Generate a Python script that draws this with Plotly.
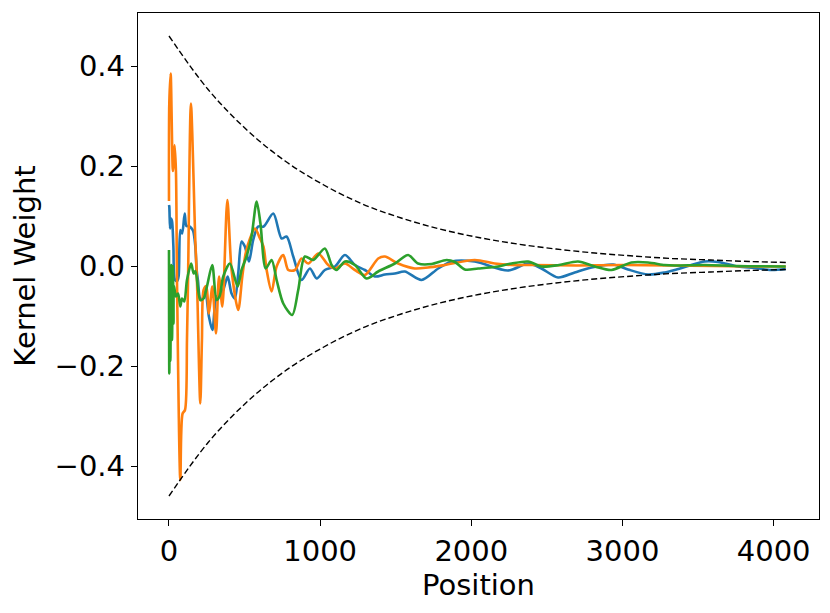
import plotly.graph_objects as go

# envelope (upper; lower is the mirror)
env_pos = [0, 256, 512, 768, 1024, 1280, 1536, 1792, 2048, 2304, 2560, 2816, 3072, 3328, 3584, 3840, 4095]
env_val = [0.460, 0.354, 0.273, 0.210, 0.162, 0.124, 0.096, 0.074, 0.057, 0.044, 0.034, 0.026, 0.020, 0.015, 0.012, 0.009, 0.007]

blue_pos = [0, 2, 7, 13, 20, 29, 40, 55, 64, 75, 87, 104, 115, 130, 147, 160, 174, 183, 192, 205, 218, 240, 264,
            287, 315, 335, 359, 388, 414, 436, 458, 480, 502, 529, 557, 590, 626, 690, 745, 778, 822, 877, 932, 977,
            1031, 1098, 1164, 1230, 1296, 1362, 1428, 1494, 1560, 1671, 1781, 1869, 2023, 2243, 2376, 2464, 2574,
            2684, 2795, 2938, 3037, 3169, 3279, 3345, 3434, 3544, 3632, 3764, 3874, 3985, 4080]
blue_val = [0.122, 0.119, 0.075, 0.095, 0.09, 0.04, -0.028, -0.03, -0.02, 0.072, 0.065, 0.105, 0.08, 0.08, 0.076,
            0.07, 0.04, -0.008, -0.03, -0.065, -0.068, -0.05, -0.101, -0.128, -0.061, -0.06, -0.048, -0.021, -0.055,
            -0.065, -0.015, 0.049, 0.039, 0.009, 0.052, 0.079, 0.079, 0.105, 0.055, 0.059, 0.019, -0.028, -0.005,
            -0.025, -0.008, -0.001, 0.022, 0.002, -0.008, -0.021, -0.017, -0.015, -0.011, -0.028, -0.005, 0.009,
            0.009, -0.009, 0.005, -0.005, -0.023, -0.013, -0.003, 0.003, -0.007, -0.017, -0.013, -0.008, 0.0, 0.009,
            0.008, -0.001, -0.004, -0.008, -0.006]

orange_pos = [0, 2, 11, 26, 37, 46, 53, 75, 90, 106, 119, 126, 145, 174, 185, 207, 218, 229, 247, 264, 287, 311, 331,
              353, 386, 414, 458, 485, 507, 536, 569, 602, 625, 646, 679, 712, 756, 789, 833, 877, 921, 987, 1053,
              1098, 1164, 1230, 1296, 1384, 1428, 1516, 1626, 1714, 1825, 2023, 2155, 2266, 2400, 2700, 3000, 3300,
              3600, 3900, 4080]
orange_val = [0.13, 0.325, 0.385, 0.19, 0.242, 0.19, -0.028, -0.428, -0.295, -0.288, -0.148, -0.028, 0.325, 0.052,
              -0.028, -0.275, -0.148, -0.048, -0.04, -0.095, -0.041, -0.135, -0.021, -0.081, 0.132, -0.008, -0.088,
              -0.021, 0.025, 0.055, 0.075, 0.055, 0.039, -0.008, -0.051, -0.001, 0.022, -0.008, -0.008, 0.015, 0.005,
              0.025, 0.002, -0.005, 0.005, -0.008, -0.018, 0.015, 0.019, 0.005, -0.005, -0.003, 0.002, 0.012, 0.005,
              0.002, 0.002, 0.001, 0.002, 0.001, 0.0, -0.001, -0.001]

green_pos = [0, 2, 6, 9, 15, 20, 26, 30, 33, 46, 60, 75, 86, 101, 119, 147, 163, 175, 207, 229, 251, 286, 315, 335,
             359, 403, 454, 480, 513, 546, 580, 605, 640, 679, 712, 756, 815, 855, 899, 954, 1031, 1076, 1109, 1164,
             1230, 1307, 1384, 1494, 1582, 1648, 1737, 1836, 1891, 1957, 2045, 2155, 2266, 2376, 2464, 2580, 2706,
             2817, 2927, 3059, 3169, 3279, 3345, 3544, 3764, 4080]
green_val = [0.032, -0.215, -0.05, -0.19, 0.002, -0.148, 0.0, -0.115, -0.04, -0.061, -0.055, -0.081, -0.065, -0.071,
             -0.028, 0.005, -0.015, -0.01, -0.068, -0.065, -0.041, 0.002, -0.068, -0.06, -0.021, 0.005, -0.041,
             -0.008, 0.019, 0.059, 0.129, 0.085, -0.005, 0.012, -0.028, -0.075, -0.098, -0.048, 0.019, 0.012, 0.035,
             0.002, -0.008, 0.009, 0.002, -0.025, -0.011, 0.005, 0.022, 0.005, 0.004, 0.012, 0.008, -0.007, -0.005,
             -0.002, 0.005, 0.009, -0.001, 0.002, 0.009, -0.001, -0.008, 0.007, 0.007, 0.002, 0.001, 0.002, 0.0,
             -0.001]

fig = go.Figure()

for pos, val, col in [(blue_pos, blue_val, "#1f77b4"),
                      (orange_pos, orange_val, "#ff7f0e"),
                      (green_pos, green_val, "#2ca02c")]:
    fig.add_trace(go.Scatter(x=pos, y=val, mode="lines",
                             line=dict(color=col, width=2.6, shape="spline", smoothing=0.8)))

fig.add_trace(go.Scatter(x=env_pos, y=env_val, mode="lines",
                         line=dict(color="black", width=1.4, dash="6px,3px", shape="spline")))
fig.add_trace(go.Scatter(x=env_pos, y=[-v for v in env_val], mode="lines",
                         line=dict(color="black", width=1.4, dash="6px,3px", shape="spline")))

axis_style = dict(showline=True, linecolor="black", linewidth=1.4, mirror=True,
                  showgrid=False, zeroline=False, ticks="outside", ticklen=6, tickwidth=1.4,
                  tickcolor="black", tickfont=dict(size=29, color="black"))

fig.update_xaxes(range=[-205, 4300], tickvals=[0, 1000, 2000, 3000, 4000], tickformat="d",
                 title=dict(text="Position", font=dict(size=29, color="black"), standoff=2), **axis_style)
fig.update_yaxes(range=[-0.506, 0.506], tickvals=[-0.4, -0.2, 0.0, 0.2, 0.4], tickformat=".1f",
                 title=dict(text="Kernel Weight", font=dict(size=29, color="black"), standoff=10), **axis_style)

# page body has an 8px margin, so the figure is shrunk by that much
fig.update_layout(width=822, height=605, showlegend=False,
                  margin=dict(l=130, r=11, t=5, b=94),
                  paper_bgcolor="white", plot_bgcolor="white",
                  font=dict(family="DejaVu Sans", size=29, color="black"))

fig.write_html("out.html")
